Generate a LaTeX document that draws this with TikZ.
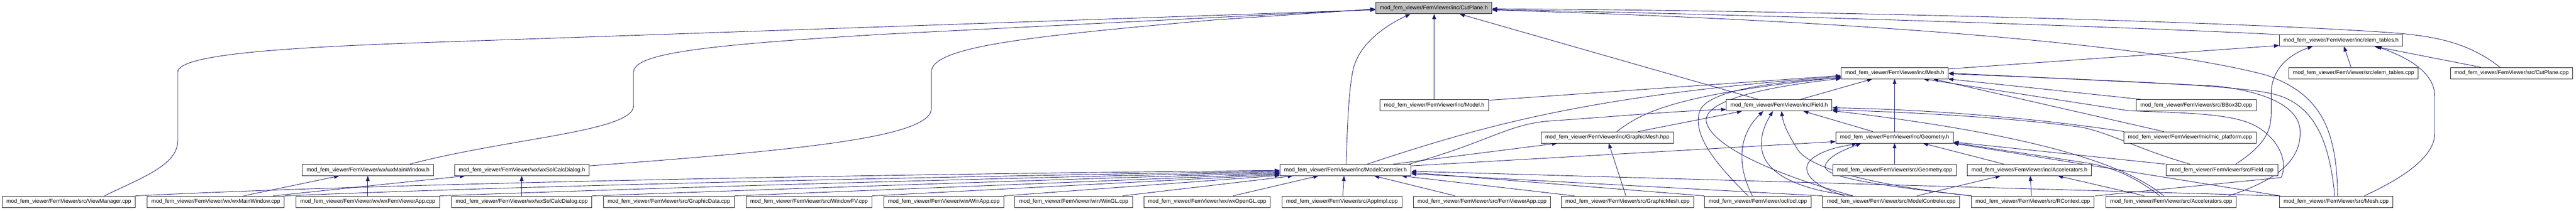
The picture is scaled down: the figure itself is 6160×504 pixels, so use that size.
\documentclass[tikz,border=0pt]{standalone}
\usepackage{fontspec}
\setmainfont{Liberation Sans}
\usetikzlibrary{arrows.meta,backgrounds}
\definecolor{edgeblue}{HTML}{191970}
\definecolor{curgrey}{HTML}{BFBFBF}
\newcommand{\fvp}[1]{mod\_fem\_viewer/FemViewer/#1}
\tikzset{
  box/.style={draw=black!85, line width=1.2pt, fill=white, rectangle, inner xsep=10pt, inner ysep=0pt,
    minimum height=27pt, font=\fontsize{13.1}{15}\selectfont, text=black},
  curbox/.style={box, fill=curgrey},
  dep/.style={draw=edgeblue, line width=1.1pt, -{Triangle[length=12pt,width=9pt]}},
}
\begin{document}
\begin{tikzpicture}[x=1pt,y=-1pt]
\useasboundingbox (0,0) rectangle (6160,504);
% row 0
\node[curbox] (cp) at (3428.5,19.5) {\fvp{inc/CutPlane.h}};
% row 1
\node[box] (et) at (5598,97) {\fvp{inc/elem\_tables.h}};
% row 2
\node[box] (mh) at (4531,175) {\fvp{inc/Mesh.h}};
\node[box] (etc) at (5628,175) {\fvp{src/elem\_tables.cpp}};
\node[box] (cpc) at (6006,175) {\fvp{src/CutPlane.cpp}};
% row 3
\node[box] (mdl) at (3429.5,252) {\fvp{inc/Model.h}};
\node[box] (fh) at (4254.5,252) {\fvp{inc/Field.h}};
\node[box] (bb) at (5252,252) {\fvp{src/BBox3D.cpp}};
% row 4
\node[box] (gmh) at (3843.5,329) {\fvp{inc/GraphicMesh.hpp}};
\node[box] (gh) at (4530.5,329) {\fvp{inc/Geometry.h}};
\node[box] (mic) at (5237,329) {\fvp{mic/mic\_platform.cpp}};
% row 5
\node[box] (wmwh) at (880,407) {\fvp{wx/wxMainWindow.h}};
\node[box] (wsch) at (1248,407) {\fvp{wx/wxSolCalcDialog.h}};
\node[box] (mch) at (3217.5,407) {\fvp{inc/ModelControler.h}};
\node[box] (gc) at (4530.5,407) {\fvp{src/Geometry.cpp}};
\node[box] (ah) at (4853,407) {\fvp{inc/Accelerators.h}};
\node[box] (fc) at (5313,407) {\fvp{src/Field.cpp}};
% row 6
\node[box] (vm) at (164.5,483) {\fvp{src/ViewManager.cpp}};
\node[box] (wmwc) at (516,483) {\fvp{wx/wxMainWindow.cpp}};
\node[box] (wfa) at (879.5,483) {\fvp{wx/wxFemViewerApp.cpp}};
\node[box] (wscc) at (1247.5,483) {\fvp{wx/wxSolCalcDialog.cpp}};
\node[box] (gd) at (1599.5,483) {\fvp{src/GraphicData.cpp}};
\node[box] (wfv) at (1934.5,483) {\fvp{src/WindowFV.cpp}};
\node[box] (wa) at (2257,483) {\fvp{win/WinApp.cpp}};
\node[box] (wgl) at (2567.5,483) {\fvp{win/WinGL.cpp}};
\node[box] (wogl) at (2886.5,483) {\fvp{wx/wxOpenGL.cpp}};
\node[box] (ai) at (3209,483) {\fvp{src/AppImpl.cpp}};
\node[box] (fva) at (3544,483) {\fvp{src/FemViewerApp.cpp}};
\node[box] (gmc) at (3892,483) {\fvp{src/GraphicMesh.cpp}};
\node[box] (ocl) at (4203.5,483) {\fvp{ocl/ocl.cpp}};
\node[box] (mcc) at (4522.5,483) {\fvp{src/ModelControler.cpp}};
\node[box] (rc) at (4861,483) {\fvp{src/RContext.cpp}};
\node[box] (acc) at (5192,483) {\fvp{src/Accelerators.cpp}};
\node[box] (mc) at (5586.5,483) {\fvp{src/Mesh.cpp}};

\begin{scope}[on background layer]
% -> CutPlane.h
\draw[dep] ([xshift=85pt]vm.north) .. controls (340,425) and (425,395) .. (425,337) -- (425,173) .. controls (425,128) and (700,112) .. (1100,99) -- ([yshift=-4pt]cp.west);
\draw[dep] ([xshift=100pt]wmwh.north) .. controls (1220,330) and (1515,315) .. (1515,253) -- (1515,173) .. controls (1515,128) and (1680,108) .. (2112,82) -- ([yshift=-3pt]cp.west);
\draw[dep] ([yshift=10pt]wsch.east) .. controls (1900,360) and (2227,330) .. (2227,260) -- (2227,173) .. controls (2227,112) and (2450,88) .. (2900,48) -- ([yshift=-2pt]cp.west);
\draw[dep] ([xshift=1.5pt]mch.north) .. controls (3222,300) and (3225,215) .. (3236,165) .. controls (3252,100) and (3320,58) .. ([xshift=-56pt]cp.south);
\draw[dep] (mdl.north) -- (mdl.north |- cp.south);
\draw[dep] ([xshift=-50pt]fh.north) -- ([xshift=62pt]cp.south);
\draw[dep] ([xshift=-146pt]et.north) .. controls (5100,65) and (4300,38) .. ([yshift=-3pt]cp.east);
\draw[dep] ([xshift=-28pt]cpc.north) .. controls (5900,100) and (5820,85) .. (5700,77) .. controls (5300,50) and (4300,25) .. ([yshift=-1.5pt]cp.east);
\draw[dep] ([xshift=3.5pt]mc.north) .. controls (5588,310) and (5550,225) .. (5420,180) .. controls (5100,95) and (4300,45) .. ([yshift=-4.5pt]cp.east);
% -> elem_tables.h
\draw[dep] ([yshift=10pt]mh.east) -- ([yshift=-12pt]et.west);
\draw[dep] ([xshift=33pt]fc.north) .. controls (5420,345) and (5431,310) .. (5431,270) -- (5431,225) .. controls (5431,165) and (5475,130) .. ([xshift=-68pt]et.south);
\draw[dep] ([xshift=-6pt]etc.north) -- ([xshift=7pt]et.south);
\draw[dep] ([xshift=-74pt]cpc.north) -- ([xshift=80pt]et.south);
\draw[dep] ([xshift=67pt]mc.north) .. controls (5760,420) and (5822,370) .. (5822,320) -- (5822,230) .. controls (5822,170) and (5750,135) .. ([xshift=85pt]et.south);
% -> Mesh.h
\draw[dep] ([yshift=12pt]mdl.east) -- ([yshift=-6pt]mh.west);
\draw[dep] ([xshift=52pt]mch.north) .. controls (3550,300) and (3800,228) .. ([yshift=-8pt]mh.west);
\draw[dep] ([xshift=23pt]gmh.north) .. controls (3930,265) and (4020,225) .. ([yshift=-10pt]mh.west);
\draw[dep] ([xshift=-23pt]ocl.north) .. controls (4100,390) and (4045,320) .. (4065,265) .. controls (4085,215) and (4250,195) .. ([yshift=-11.5pt]mh.west);
\draw[dep] ([xshift=-91pt]mcc.north) .. controls (4250,420) and (4090,350) .. (4080,290) .. controls (4075,235) and (4250,205) .. ([yshift=-13pt]mh.west);
\draw[dep] ([xshift=51pt]fh.north) -- ([xshift=-54pt]mh.south);
\draw[dep] (gh.north) -- (gh.north |- mh.south);
\draw[dep] ([xshift=-132pt]bb.north) -- ([xshift=-1pt]mh.south east);
\draw[dep] ([xshift=-63pt]mic.north) -- ([xshift=92pt]mh.south);
\draw[dep] ([xshift=149pt]rc.north) -- (5455,425) .. controls (5475,380) and (5440,320) .. (5380,295) .. controls (5320,270) and (5200,270) .. (5090,265) -- ([xshift=69pt]mh.south);
\draw[dep] ([xshift=137pt]acc.north) .. controls (5450,430) and (5505,380) .. (5500,310) .. controls (5495,255) and (5420,220) .. (5300,206) -- (mh.east);
\draw[dep] ([xshift=-3.5pt]mc.north) .. controls (5570,330) and (5530,250) .. (5440,226) .. controls (5360,205) and (5100,195) .. ([yshift=-1.5pt]mh.east);
% -> Field.h
\draw[dep] ([xshift=152pt]mch.north) .. controls (3560,340) and (3600,300) .. (3700,290) .. controls (3850,280) and (4000,266) .. ([yshift=-10pt]fh.west);
\draw[dep] ([xshift=74pt]gmh.north) -- ([xshift=-89pt]fh.south);
\draw[dep] ([xshift=-13pt]ocl.north) .. controls (4150,390) and (4160,320) .. ([xshift=-38pt]fh.south);
\draw[dep] ([xshift=-92pt]mcc.north) .. controls (4180,440) and (4195,340) .. ([xshift=-15pt]fh.south);
\draw[dep] ([xshift=-52pt]gh.north) -- ([xshift=58pt]fh.south);
\draw[dep] ([xshift=-147pt]rc.north) .. controls (4450,440) and (4330,400) .. (4300,360) .. controls (4278,325) and (4265,300) .. ([xshift=5.5pt]fh.south);
\draw[dep] ([xshift=-158pt]mic.north) .. controls (4850,280) and (4600,262) .. ([yshift=-6pt]fh.east);
\draw[dep] ([xshift=-76pt]fc.north) .. controls (5120,360) and (5050,320) .. (4980,305) .. controls (4800,280) and (4550,268) .. ([yshift=-11pt]fh.east);
\draw[dep] ([xshift=-18pt]acc.north) .. controls (5080,390) and (4850,320) .. ([yshift=-13pt]fh.east);
% -> Geometry.h
\draw[dep] ([yshift=10pt]mch.east) -- ([yshift=-10pt]gh.west);
\draw[dep] (gc.north) -- (gh.south);
\draw[dep] ([xshift=-61pt]ah.north) -- ([xshift=68pt]gh.south);
\draw[dep] ([xshift=-112pt]mcc.north) .. controls (4320,440) and (4300,400) .. (4340,375) .. controls (4370,355) and (4410,350) .. ([xshift=-90pt]gh.south);
\draw[dep] ([xshift=-146pt]rc.north) .. controls (4450,440) and (4355,420) .. (4365,395) .. controls (4375,370) and (4420,355) .. ([xshift=-80pt]gh.south);
\draw[dep] ([xshift=-135pt]fc.north) -- ([yshift=3pt]gh.south east);
\draw[dep] ([xshift=-27pt]acc.north) .. controls (5100,420) and (5050,400) .. (4990,390) -- ([yshift=1.5pt]gh.south east);
\draw[dep] ([xshift=-134pt]mc.north) -- (gh.south east);
% -> GraphicMesh.hpp
\draw[dep] ([xshift=114pt]mch.north) -- ([xshift=-120pt]gmh.south);
\draw[dep] ([xshift=-4pt]gmc.north) -- ([xshift=3.5pt]gmh.south);
% -> Accelerators.h
\draw[dep] ([xshift=61pt]mcc.north) -- ([xshift=-69pt]ah.south);
\draw[dep] ([xshift=-3pt]rc.north) -- ([xshift=2pt]ah.south);
\draw[dep] ([xshift=-64pt]acc.north) -- ([xshift=68pt]ah.south);
% -> ModelControler.h
\draw[dep] (vm.north east) .. controls (800,445) and (1800,420) .. ([yshift=-1pt]mch.west);
\draw[dep] (wmwc.north east) .. controls (1200,447) and (2100,425) .. ([yshift=-3pt]mch.west);
\draw[dep] (wfa.north east) .. controls (1500,452) and (2300,428) .. ([yshift=-5pt]mch.west);
\draw[dep] (wscc.north east) .. controls (1800,455) and (2500,430) .. ([yshift=-7pt]mch.west);
\draw[dep] (gd.north east) -- ([yshift=-9pt]mch.west);
\draw[dep] (wfv.north east) -- ([yshift=-11pt]mch.west);
\draw[dep] (wa.north east) -- ([yshift=-13pt]mch.west);
\draw[dep] ([xshift=116.5pt]wgl.north) -- ([xshift=-126pt]mch.south);
\draw[dep] ([xshift=62pt]wogl.north) -- ([xshift=-65pt]mch.south);
\draw[dep] ([xshift=2pt]ai.north) -- ([xshift=-3.5pt]mch.south);
\draw[dep] ([xshift=-64pt]fva.north) -- ([xshift=68.5pt]mch.south);
\draw[dep] ([xshift=-127pt]gmc.north) -- ([xshift=134.5pt]mch.south);
\draw[dep] (ocl.north west) -- ([yshift=-6pt]mch.east);
\draw[dep] (mcc.north west) -- ([yshift=-9pt]mch.east);
\draw[dep] (mc.north west) -- ([yshift=-3pt]mch.east);
% -> wxMainWindow.h, wxSolCalcDialog.h
\draw[dep] ([xshift=66pt]wmwc.north) -- ([xshift=-69pt]wmwh.south);
\draw[dep] (wfa.north) -- (wfa.north |- wmwh.south);
\draw[dep] ([xshift=137pt]wmwc.north) -- ([xshift=-136pt]wsch.south);
\draw[dep] (wscc.north) -- (wscc.north |- wsch.south);
\end{scope}
\end{tikzpicture}
\end{document}
